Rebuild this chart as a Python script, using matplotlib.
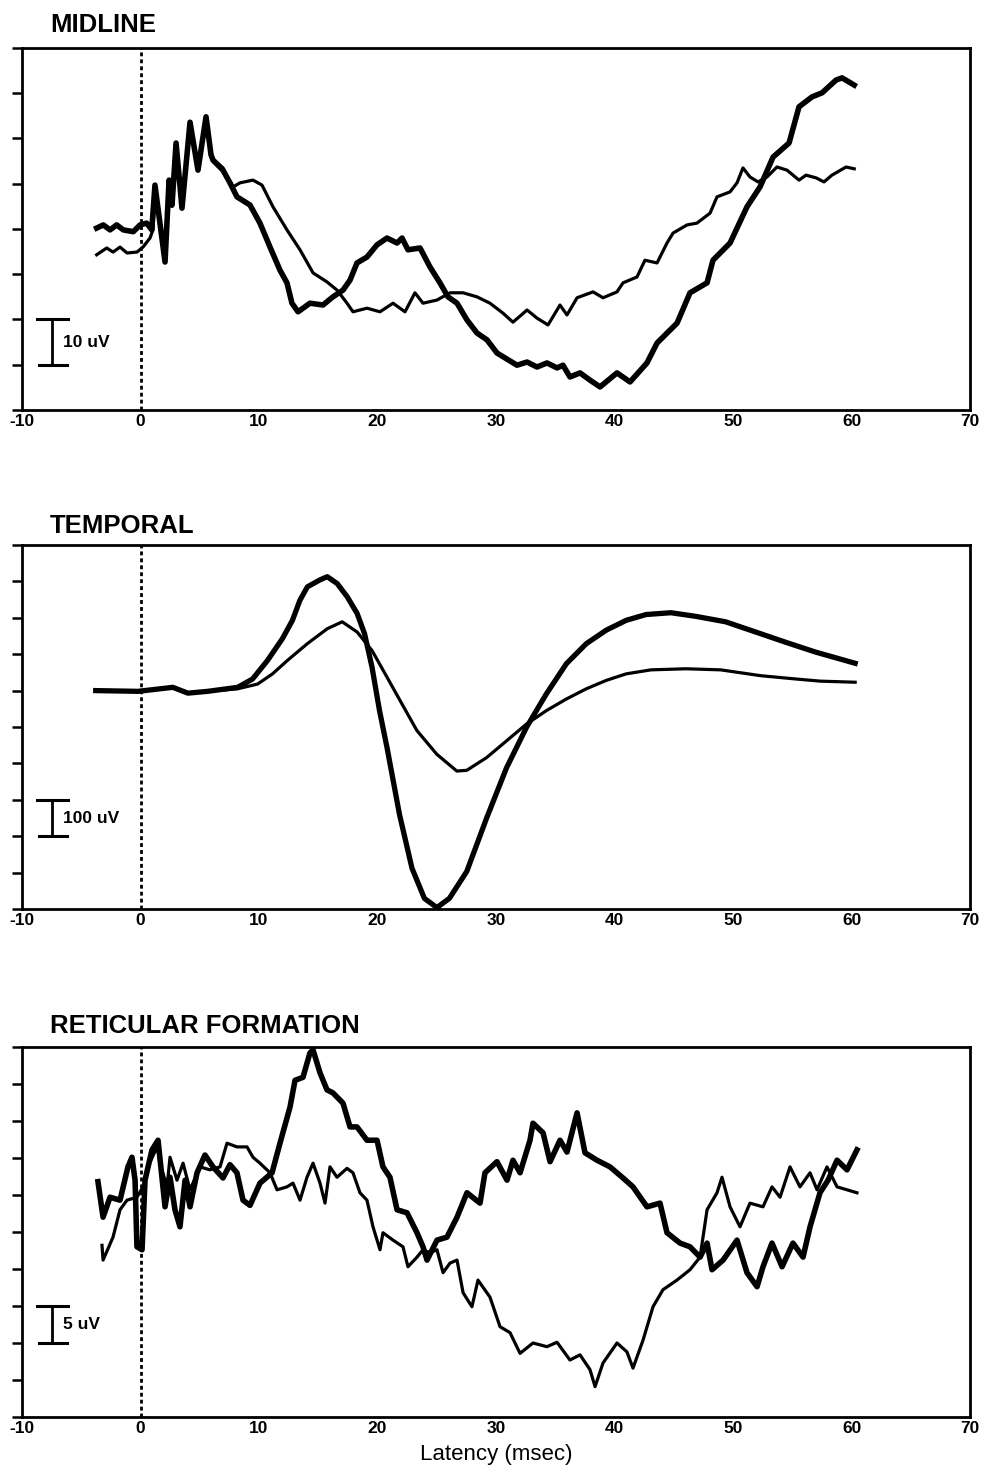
import numpy as np
import matplotlib
matplotlib.use('Agg')
from matplotlib import pyplot as plt

plt.rcParams['font.family'] = ['Liberation Sans', 'DejaVu Sans']
plt.rcParams['axes.unicode_minus'] = False

# ________________________________________________________________________
# traces: latency (msec) and amplitude (uV)

# MIDLINE
mid_thick_t = [-3.70, -3.14, -2.57, -2.01, -1.45, -0.61, -0.04, 0.52, 0.95, 1.22,
               2.07, 2.41, 2.66, 3.00, 3.50, 4.18, 4.85, 5.53, 5.95, 6.12,
               6.96, 7.55, 8.14, 9.24, 10.08, 10.93, 11.77, 12.36, 12.78, 13.29,
               14.30, 15.40, 16.24, 17.09, 17.68, 18.27, 19.11, 19.96, 20.80, 21.65,
               22.07, 22.57, 23.59, 24.43, 25.27, 25.95, 26.71, 27.55, 28.40, 29.24,
               30.08, 31.77, 32.62, 33.46, 34.30, 35.15, 35.65, 36.24, 37.09, 37.93,
               38.78, 40.21, 41.31, 42.74, 43.59, 45.28, 46.37, 47.81, 48.31, 49.75,
               51.18, 52.28, 53.38, 54.73, 55.57, 56.67, 57.52, 58.69, 59.20, 60.23]
mid_thick_v = [0.2, 0.9, -0.2, 0.9, -0.2, -0.6, 0.9, 1.3, -0.2, 9.7,
               -7.3, 10.8, 5.3, 19.0, 4.6, 23.6, 13.0, 24.8, 16.4, 15.2,
               13.0, 10.2, 7.1, 5.3, 1.3, -4.0, -9.1, -11.9, -16.4, -18.3,
               -16.4, -16.8, -15.0, -13.5, -11.3, -7.5, -6.2, -3.5, -2.0, -3.1,
               -2.0, -4.6, -4.2, -8.4, -11.9, -15.0, -16.4, -20.1, -23.0, -24.5,
               -27.4, -30.1, -29.4, -30.5, -29.6, -30.7, -30.1, -32.7, -31.8, -33.4,
               -34.9, -31.8, -33.8, -29.6, -25.2, -20.8, -14.1, -11.9, -6.9, -3.1,
               4.9, 9.3, 15.9, 19.0, 27.0, 29.2, 30.1, 32.9, 33.4, 31.8]

mid_thin_t = [-3.70, -2.85, -2.32, -1.73, -1.14, -0.30, 0.21, 0.80, 1.05, 1.22,
              2.07, 2.41, 2.66, 3.00, 3.50, 4.18, 4.85, 5.53, 5.95, 6.12,
              6.96, 7.55, 7.81, 8.40, 9.49, 10.25, 11.18, 12.36, 13.46, 14.56,
              15.74, 16.58, 17.43, 17.93, 19.11, 20.21, 21.31, 22.32, 23.16, 23.84,
              25.02, 26.12, 27.22, 28.40, 29.49, 30.59, 31.43, 32.62, 33.46, 34.39,
              35.40, 35.99, 36.84, 38.19, 39.03, 40.21, 40.72, 41.90, 42.57, 43.59,
              44.43, 44.94, 46.12, 46.96, 48.06, 48.65, 49.75, 50.34, 50.84, 51.43,
              52.11, 52.87, 53.71, 54.56, 55.57, 56.16, 57.01, 57.68, 58.35, 59.54,
              60.23]
mid_thin_v = [-5.7, -4.2, -5.1, -4.0, -5.3, -5.1, -4.0, -2.0, -0.2, 8.0,
              -6.0, 10.0, 5.0, 18.0, 5.0, 22.5, 13.5, 24.0, 17.0, 15.5,
              13.5, 10.2, 9.3, 10.2, 10.8, 9.7, 4.9, -0.2, -4.6, -9.7,
              -11.7, -13.5, -16.4, -18.3, -17.5, -18.3, -16.4, -18.3, -14.1, -16.4,
              -15.7, -14.1, -14.1, -15.0, -16.4, -18.6, -20.6, -17.9, -19.7, -21.2,
              -16.8, -19.0, -15.2, -13.9, -15.2, -13.9, -11.9, -10.6, -6.9, -7.5,
              -3.1, -0.9, 0.9, 1.3, 3.5, 7.1, 8.2, 10.2, 13.5, 11.5,
              10.4, 11.5, 13.7, 13.0, 10.8, 11.9, 11.3, 10.4, 11.9, 13.7,
              13.3]

# TEMPORAL
tmp_thick_t = [-3.78, -0.21, 2.73, 4.00, 5.67, 8.20, 9.46, 10.72, 11.98, 12.82,
               13.45, 14.08, 15.13, 15.76, 16.60, 17.44, 18.28, 18.91, 19.54, 20.17,
               20.80, 21.86, 22.91, 23.96, 25.01, 26.06, 27.53, 29.21, 30.89, 32.57,
               34.25, 35.94, 37.62, 39.30, 40.98, 42.66, 44.76, 46.86, 49.38, 51.91,
               54.43, 56.95, 60.31]
tmp_thick_v = [0, -2, 9, -7, -2, 9, 32, 83, 143, 193,
               248, 285, 304, 313, 294, 258, 212, 156, 64, -55,
               -156, -341, -488, -571, -596, -571, -497, -350, -212, -101,
               -9, 74, 129, 166, 193, 209, 214, 204, 189, 161,
               133, 106, 75]

tmp_thin_t = [-3.78, -0.21, 2.73, 4.00, 5.67, 8.20, 9.88, 11.14, 12.40, 14.08,
              15.76, 17.02, 18.28, 19.54, 20.80, 22.07, 23.33, 25.01, 26.69, 27.53,
              29.21, 30.89, 32.57, 34.25, 35.94, 37.62, 39.30, 40.98, 43.08, 46.02,
              48.96, 52.33, 55.27, 57.37, 60.31]
tmp_thin_v = [0, -2, 9, -7, -2, 5, 18, 46, 83, 129,
              170, 189, 161, 110, 37, -37, -110, -175, -221, -219,
              -184, -138, -92, -55, -23, 5, 28, 46, 57, 60,
              57, 41, 32, 26, 23]

# RETICULAR FORMATION
ret_thick_t = [-3.59, -3.16, -2.57, -1.73, -1.06, -0.72, -0.46, -0.30, 0.13, 0.38,
               0.97, 1.48, 2.07, 2.49, 2.91, 3.33, 3.76, 4.18, 4.77, 5.44,
               6.12, 6.96, 7.55, 8.14, 8.65, 9.24, 10.08, 11.10, 11.77, 12.62,
               13.04, 13.71, 14.30, 14.56, 15.15, 15.74, 16.24, 17.09, 17.68, 18.27,
               19.11, 19.96, 20.46, 21.05, 21.65, 22.49, 23.33, 23.84, 24.18, 25.02,
               25.86, 26.71, 27.55, 28.65, 29.07, 30.08, 30.93, 31.43, 32.03, 32.87,
               33.12, 33.97, 34.56, 35.40, 35.99, 36.84, 37.51, 38.52, 39.62, 40.72,
               41.56, 42.74, 43.84, 44.43, 45.53, 46.37, 47.22, 47.81, 48.23, 49.16,
               50.34, 51.18, 52.03, 52.53, 53.29, 54.14, 55.06, 55.91, 56.50, 57.34,
               58.02, 58.78, 59.62, 60.46]
ret_thick_v = [1.8, -3.0, -0.3, -0.7, 3.8, 5.1, 2.0, -7.0, -7.4, 2.0,
               6.1, 7.4, -1.6, 2.4, -2.0, -4.3, 2.0, -1.6, 3.0, 5.4,
               3.8, 2.3, 4.1, 3.0, -0.7, -1.4, 1.6, 3.0, 7.0, 11.9,
               15.5, 15.9, 19.2, 19.6, 16.5, 14.2, 13.8, 12.4, 9.2, 9.2,
               7.4, 7.4, 3.8, 2.4, -2.0, -2.4, -5.1, -7.0, -8.8, -6.1,
               -5.7, -3.0, 0.3, -1.1, 3.0, 4.5, 2.0, 4.7, 3.0, 7.4,
               9.7, 8.4, 4.5, 7.4, 5.8, 11.1, 5.7, 4.7, 3.8, 2.3,
               1.1, -1.6, -1.1, -5.1, -6.5, -7.0, -8.4, -6.5, -10.1, -8.8,
               -6.1, -10.5, -12.4, -9.7, -6.5, -9.7, -6.5, -8.4, -4.3, 0.3,
               2.0, 4.7, 3.4, 6.1]

ret_thin_t = [-3.25, -3.16, -2.32, -1.73, -1.14, -0.30, 0.21, 0.63, 1.39, 1.81,
              2.24, 2.49, 3.08, 3.59, 4.18, 5.02, 5.86, 6.71, 7.30, 8.14,
              8.99, 9.49, 10.08, 10.93, 11.52, 12.36, 12.87, 13.46, 14.05, 14.56,
              15.15, 15.57, 15.99, 16.58, 17.43, 17.93, 18.52, 19.11, 19.62, 20.21,
              20.46, 21.31, 22.15, 22.57, 23.33, 23.84, 24.43, 25.02, 25.53, 26.12,
              26.71, 27.22, 27.97, 28.48, 29.49, 30.34, 31.18, 32.03, 33.12, 34.30,
              35.15, 36.24, 37.09, 37.93, 38.36, 39.03, 40.21, 41.05, 41.56, 42.41,
              43.25, 44.09, 45.27, 46.37, 47.22, 47.81, 48.65, 49.07, 49.75, 50.59,
              51.43, 52.53, 53.29, 53.97, 54.81, 55.65, 56.50, 57.09, 57.93, 58.78,
              59.62, 60.46]
ret_thin_v = [-6.8, -8.8, -5.7, -2.0, -0.7, -0.3, 1.1, 3.8, 6.5, 3.4,
              1.1, 5.1, 2.0, 4.3, 0.7, 3.8, 3.4, 3.8, 7.0, 6.5,
              6.5, 5.1, 4.3, 3.0, 0.7, 1.1, 1.6, -0.7, 2.4, 4.3,
              1.6, -1.1, 3.8, 2.4, 3.6, 3.0, 0.3, -0.7, -4.3, -7.4,
              -5.1, -6.1, -7.0, -9.7, -8.4, -7.4, -7.8, -7.4, -10.5, -9.2,
              -8.8, -13.2, -15.1, -11.5, -13.8, -17.8, -18.6, -21.4, -20.0, -20.5,
              -19.9, -22.3, -21.6, -23.6, -25.9, -22.7, -20.0, -21.2, -23.4, -19.6,
              -15.1, -12.8, -11.5, -10.1, -8.4, -2.0, 0.3, 2.4, -1.6, -4.3,
              -1.1, -1.6, 1.1, -0.3, 3.8, 1.1, 3.0, 0.7, 3.8, 1.1,
              0.7, 0.3]

xticks = [-10, 0, 10, 20, 30, 40, 50, 60, 70]


fig = plt.figure(figsize=(9.85, 14.73), dpi=100)


def panel(rect, ylim, ystep, title, title_y, bar, bar_label):
    ax = fig.add_axes(rect)
    ax.set_xlim(-10, 70)
    ax.set_ylim(*ylim)
    ax.set_xticks(xticks)
    ax.set_xticklabels([str(x) for x in xticks], fontweight='bold')
    ax.set_yticks(np.arange(ylim[0], ylim[1] + ystep / 2, ystep))
    ax.set_yticklabels([])
    ax.tick_params(axis='y', direction='out', length=7, width=1.8)
    ax.tick_params(axis='x', length=0, pad=3, labelsize=12.5)
    for sp in ax.spines.values():
        sp.set_linewidth(2.0)

    # stimulus onset
    ax.axvline(0, color='black', lw=2.0, ls=(0, (1.4, 1.1)))

    # calibration bar
    y0, y1 = bar
    ax.plot([-7.45, -7.45], [y0, y1], color='black', lw=2.0)
    ax.plot([-8.7, -6.1], [y1, y1], color='black', lw=2.2)
    ax.plot([-8.6, -6.2], [y0, y0], color='black', lw=2.2)
    ax.text(-6.5, (y0 + y1) / 2, bar_label, fontsize=12.5, fontweight='bold',
            va='center', ha='left')

    fig.text(0.051, title_y, title, fontsize=18.5, fontweight='bold',
             va='baseline', ha='left')
    return ax


ax1 = panel([0.02234, 0.72166, 0.96244, 0.24576], (-40, 40), 10,
            'MIDLINE', 1 - 32 / 1473, (-30, -20), '10 uV')
ax1.plot(mid_thin_t, mid_thin_v, color='black', lw=2.3, solid_joinstyle='round')
ax1.plot(mid_thick_t, mid_thick_v, color='black', lw=4.0, solid_joinstyle='round')

ax2 = panel([0.02234, 0.38289, 0.96244, 0.24711], (-600, 400), 100,
            'TEMPORAL', 1 - 533 / 1473, (-400, -300), '100 uV')
ax2.plot(tmp_thin_t, tmp_thin_v, color='black', lw=2.3, solid_joinstyle='round')
ax2.plot(tmp_thick_t, tmp_thick_v, color='black', lw=3.8, solid_joinstyle='round',
         clip_on=False)

ax3 = panel([0.02234, 0.03802, 0.96244, 0.25119], (-30, 20), 5,
            'RETICULAR FORMATION', 1 - 1033 / 1473, (-20, -15), '5 uV')
ax3.plot(ret_thin_t, ret_thin_v, color='black', lw=2.3, solid_joinstyle='round')
ax3.plot(ret_thick_t, ret_thick_v, color='black', lw=4.0, solid_joinstyle='round')
ax3.set_xlabel('Latency (msec)', fontsize=16, labelpad=6)

fig.savefig('out.png', dpi=100)
